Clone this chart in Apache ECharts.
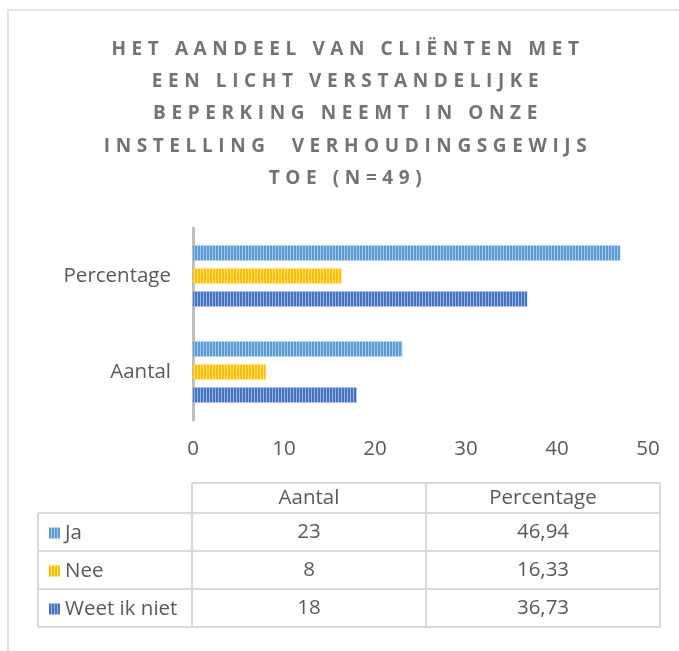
<!DOCTYPE html>
<html>
<head>
<meta charset="utf-8">
<script src="https://cdn.jsdelivr.net/npm/echarts@6/dist/echarts.min.js"></script>
<style>
  html, body { margin: 0; padding: 0; background: #fff; }
  #chart { width: 679px; height: 651px; }
</style>
</head>
<body>
<div id="chart"></div>
<script>
const titleLines = [
    "HET AANDEEL VAN CLIËNTEN MET",
    "EEN LICHT VERSTANDELIJKE",
    "BEPERKING NEEMT IN ONZE",
    "INSTELLING  VERHOUDINGSGEWIJS",
    "TOE (N=49)"
];
const categories = ["Aantal", "Percentage"];
const seriesNames = ["Ja", "Nee", "Weet ik niet"];
const aantal = [23, 8, 18];
const percentage = [46.94, 16.33, 36.73];
const xTicks = [0, 10, 20, 30, 40, 50];

const textColor = "#595959";
const font = "Open Sans";
const fontSize = 20.5;

// title is letter-spaced in the original; only bold text is the title here
const origFill = CanvasRenderingContext2D.prototype.fillText;
CanvasRenderingContext2D.prototype.fillText = function (t, x, y, m) {
    this.letterSpacing = /bold/.test(this.font) ? "5.6px" : "0px";
    return m === undefined ? origFill.call(this, t, x, y) : origFill.call(this, t, x, y, m);
};

function stripes(base, light) {
    const c = document.createElement("canvas");
    c.width = 3; c.height = 1;
    const ctx = c.getContext("2d");
    ctx.fillStyle = base; ctx.fillRect(0, 0, 2, 1);
    ctx.fillStyle = light; ctx.fillRect(2, 0, 1, 1);
    return { image: c, repeat: "repeat" };
}

const fills = [
    stripes("#5B9BD5", "#A7C9EA"),
    stripes("#FFC000", "#FFDE80"),
    stripes("#4472C4", "#9CB3DF")
];

const series = seriesNames.map((name, i) => ({
    name: name,
    type: "bar",
    data: [aantal[i], percentage[i]],
    barWidth: 15,
    barGap: "53%",
    itemStyle: { color: fills[i] },
    silent: true
}));

// data table under the chart
const tableLeft = 38, col1 = 192, col2 = 426, tableRight = 660;
const headTop = 483, headBottom = 513, rowH = 38;
const lineStyle = { stroke: "#d9d9d9", lineWidth: 2 };
const graphics = [];
function hLine(x1, x2, y) {
    graphics.push({ type: "line", shape: { x1: x1, y1: y, x2: x2, y2: y }, style: lineStyle, silent: true });
}
function vLine(x, y1, y2) {
    graphics.push({ type: "line", shape: { x1: x, y1: y1, x2: x, y2: y2 }, style: lineStyle, silent: true });
}
function cellText(txt, x, y) {
    graphics.push({
        type: "text", x: x, y: y, silent: true,
        style: { text: txt, font: fontSize + "px '" + font + "'", fill: textColor, align: "center", verticalAlign: "middle" }
    });
}
const tableBottom = headBottom + rowH * seriesNames.length;
hLine(col1, tableRight, headTop);
hLine(tableLeft, tableRight, headBottom);
for (let i = 1; i <= seriesNames.length; i++) hLine(tableLeft, tableRight, headBottom + rowH * i);
vLine(tableLeft, headBottom, tableBottom);
vLine(col1, headTop, tableBottom);
vLine(col2, headTop, tableBottom);
vLine(tableRight, headTop, tableBottom);
cellText(categories[0], (col1 + col2) / 2, (headTop + headBottom) / 2);
cellText(categories[1], (col2 + tableRight) / 2, (headTop + headBottom) / 2);
seriesNames.forEach((n, i) => {
    const y = headBottom + rowH * i + rowH / 2;
    cellText(String(aantal[i]), (col1 + col2) / 2, y);
    cellText(percentage[i].toFixed(2).replace(".", ","), (col2 + tableRight) / 2, y);
});
// outer frame
graphics.push({
    type: "rect", shape: { x: 8, y: 10, width: 720, height: 700 },
    style: { fill: null, stroke: "#d9d9d9", lineWidth: 1.5 }, silent: true, z: -1
});

const chart = echarts.init(document.getElementById("chart"), null, { renderer: "canvas" });
chart.setOption({
    animation: false,
    title: {
        text: titleLines.join("\n"),
        left: 343,
        top: 28,
        textAlign: "center",
        textStyle: { fontFamily: font, fontWeight: "bold", fontSize: 19, color: "#737373", lineHeight: 32.4 }
    },
    legend: {
        orient: "vertical",
        left: 44,
        top: headBottom + 4,
        itemWidth: 11,
        itemHeight: 11,
        itemGap: 16,
        icon: "rect",
        selectedMode: false,
        textStyle: { fontFamily: font, fontSize: fontSize, color: textColor, lineHeight: 22 },
        data: seriesNames
    },
    grid: { left: 193, right: 31, top: 228, height: 192, containLabel: false },
    xAxis: {
        type: "value",
        min: xTicks[0],
        max: xTicks[xTicks.length - 1],
        interval: 10,
        axisLine: { show: false },
        axisTick: { show: false },
        splitLine: { show: false },
        axisLabel: { fontFamily: font, fontSize: fontSize, color: textColor, margin: 19 }
    },
    yAxis: {
        type: "category",
        data: categories,
        axisLine: { show: true, lineStyle: { color: "#bfbfbf", width: 3 } },
        axisTick: { show: false },
        axisLabel: { fontFamily: font, fontSize: fontSize, color: textColor, margin: 22 }
    },
    series: series,
    graphic: graphics
});
</script>
</body>
</html>
